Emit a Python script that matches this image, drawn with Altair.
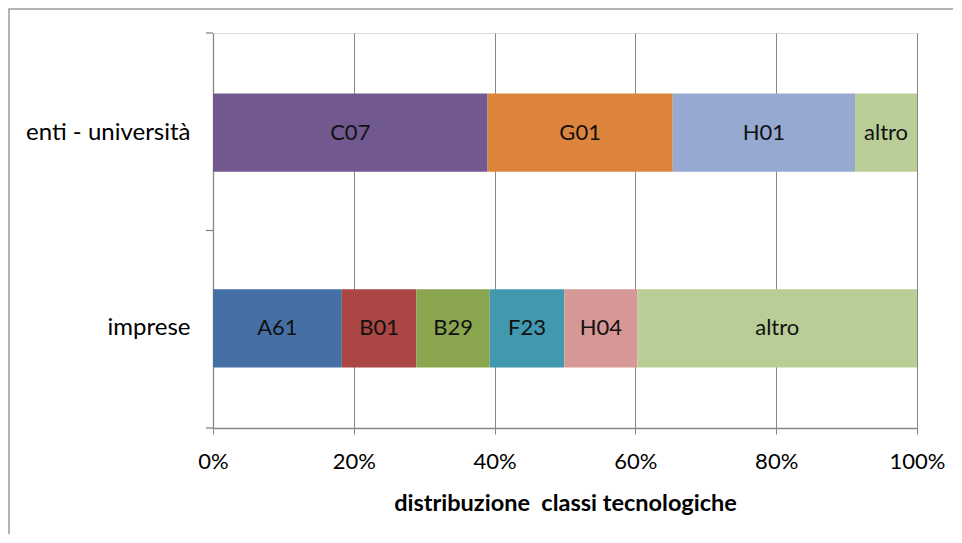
import altair as alt
import pandas as pd

categories = ["enti - università", "enti - università", "enti - università", "enti - università",
              "imprese", "imprese", "imprese", "imprese", "imprese", "imprese"]
classes = ["C07", "G01", "H01", "altro", "A61", "B01", "B29", "F23", "H04", "altro"]
shares = [0.390, 0.263, 0.259, 0.088, 0.183, 0.106, 0.104, 0.106, 0.104, 0.397]

color_domain = ["A61", "B01", "B29", "F23", "H04", "C07", "G01", "H01", "altro"]
color_range = ["#4470A6", "#AA4643", "#89A54E", "#4198AF", "#D69896",
               "#71588F", "#DD843C", "#95A9D1", "#B9CD96"]

df = pd.DataFrame({"cat": categories, "cls": classes, "share": shares})
df["end"] = df.groupby("cat")["share"].cumsum()
df["start"] = df["end"] - df["share"]
df["mid"] = (df["start"] + df["end"]) / 2

FONT = "Lato"
W, H = 704, 395
cat_order = ["enti - università", "imprese"]

yscale = alt.Scale(domain=cat_order, paddingInner=0.6, paddingOuter=0.31)
xscale = alt.Scale(domain=[0, 1], nice=False)

bars = alt.Chart(df).mark_bar(cornerRadius=0).encode(
    y=alt.Y("cat:N", scale=yscale, sort=cat_order,
            axis=alt.Axis(title=None, labelFontSize=24, labelFont=FONT, labelColor="#000000",
                          tickSize=0, labelPadding=23, domainColor="#868686", domainWidth=1.3)),
    x=alt.X("start:Q", scale=xscale,
            axis=alt.Axis(format="%", values=[0, 0.2, 0.4, 0.6, 0.8, 1.0],
                          title="distribuzione\u00a0 classi tecnologiche",
                          titleFontSize=23.5, titleFont=FONT, titleFontWeight="bold",
                          titleColor="#000000", titlePadding=19,
                          labelFontSize=22, labelFont=FONT, labelColor="#000000",
                          labelPadding=17, labelFlush=False, tickSize=6, tickColor="#868686",
                          domainColor="#868686", domainWidth=1.3,
                          grid=True, gridColor="#868686", gridWidth=1)),
    x2="end:Q",
    color=alt.Color("cls:N", scale=alt.Scale(domain=color_domain, range=color_range), legend=None),
)

labels = alt.Chart(df).mark_text(font=FONT, fontSize=22, color="#111111").encode(
    y=alt.Y("cat:N", scale=yscale, sort=cat_order),
    x=alt.X("mid:Q", scale=xscale),
    text="cls:N",
)

ticks_df = pd.DataFrame({"yp": [0, H / 2, H]})
yticks = alt.Chart(ticks_df).mark_rule(color="#868686", strokeWidth=1.3).encode(
    x=alt.value(-7), x2=alt.value(0), y=alt.Y("yp:Q", scale=None)
)

frame = alt.Chart(pd.DataFrame({"a": [0]})).mark_rect(
    fill=None, stroke="#9a9a9a", strokeWidth=1.5
).encode(
    x=alt.value(-204), x2=alt.value(W + 100), y=alt.value(-24), y2=alt.value(H + 200)
)

chart = alt.layer(frame, bars, labels, yticks).properties(
    width=W, height=H,
    padding={"left": 205, "top": 25, "right": 36, "bottom": 106},
    autosize=alt.AutoSizeParams(type="none"),
).configure_view(stroke=None).configure(background="white")

chart.save("out.html", embed_options={"renderer": "svg", "actions": False})
